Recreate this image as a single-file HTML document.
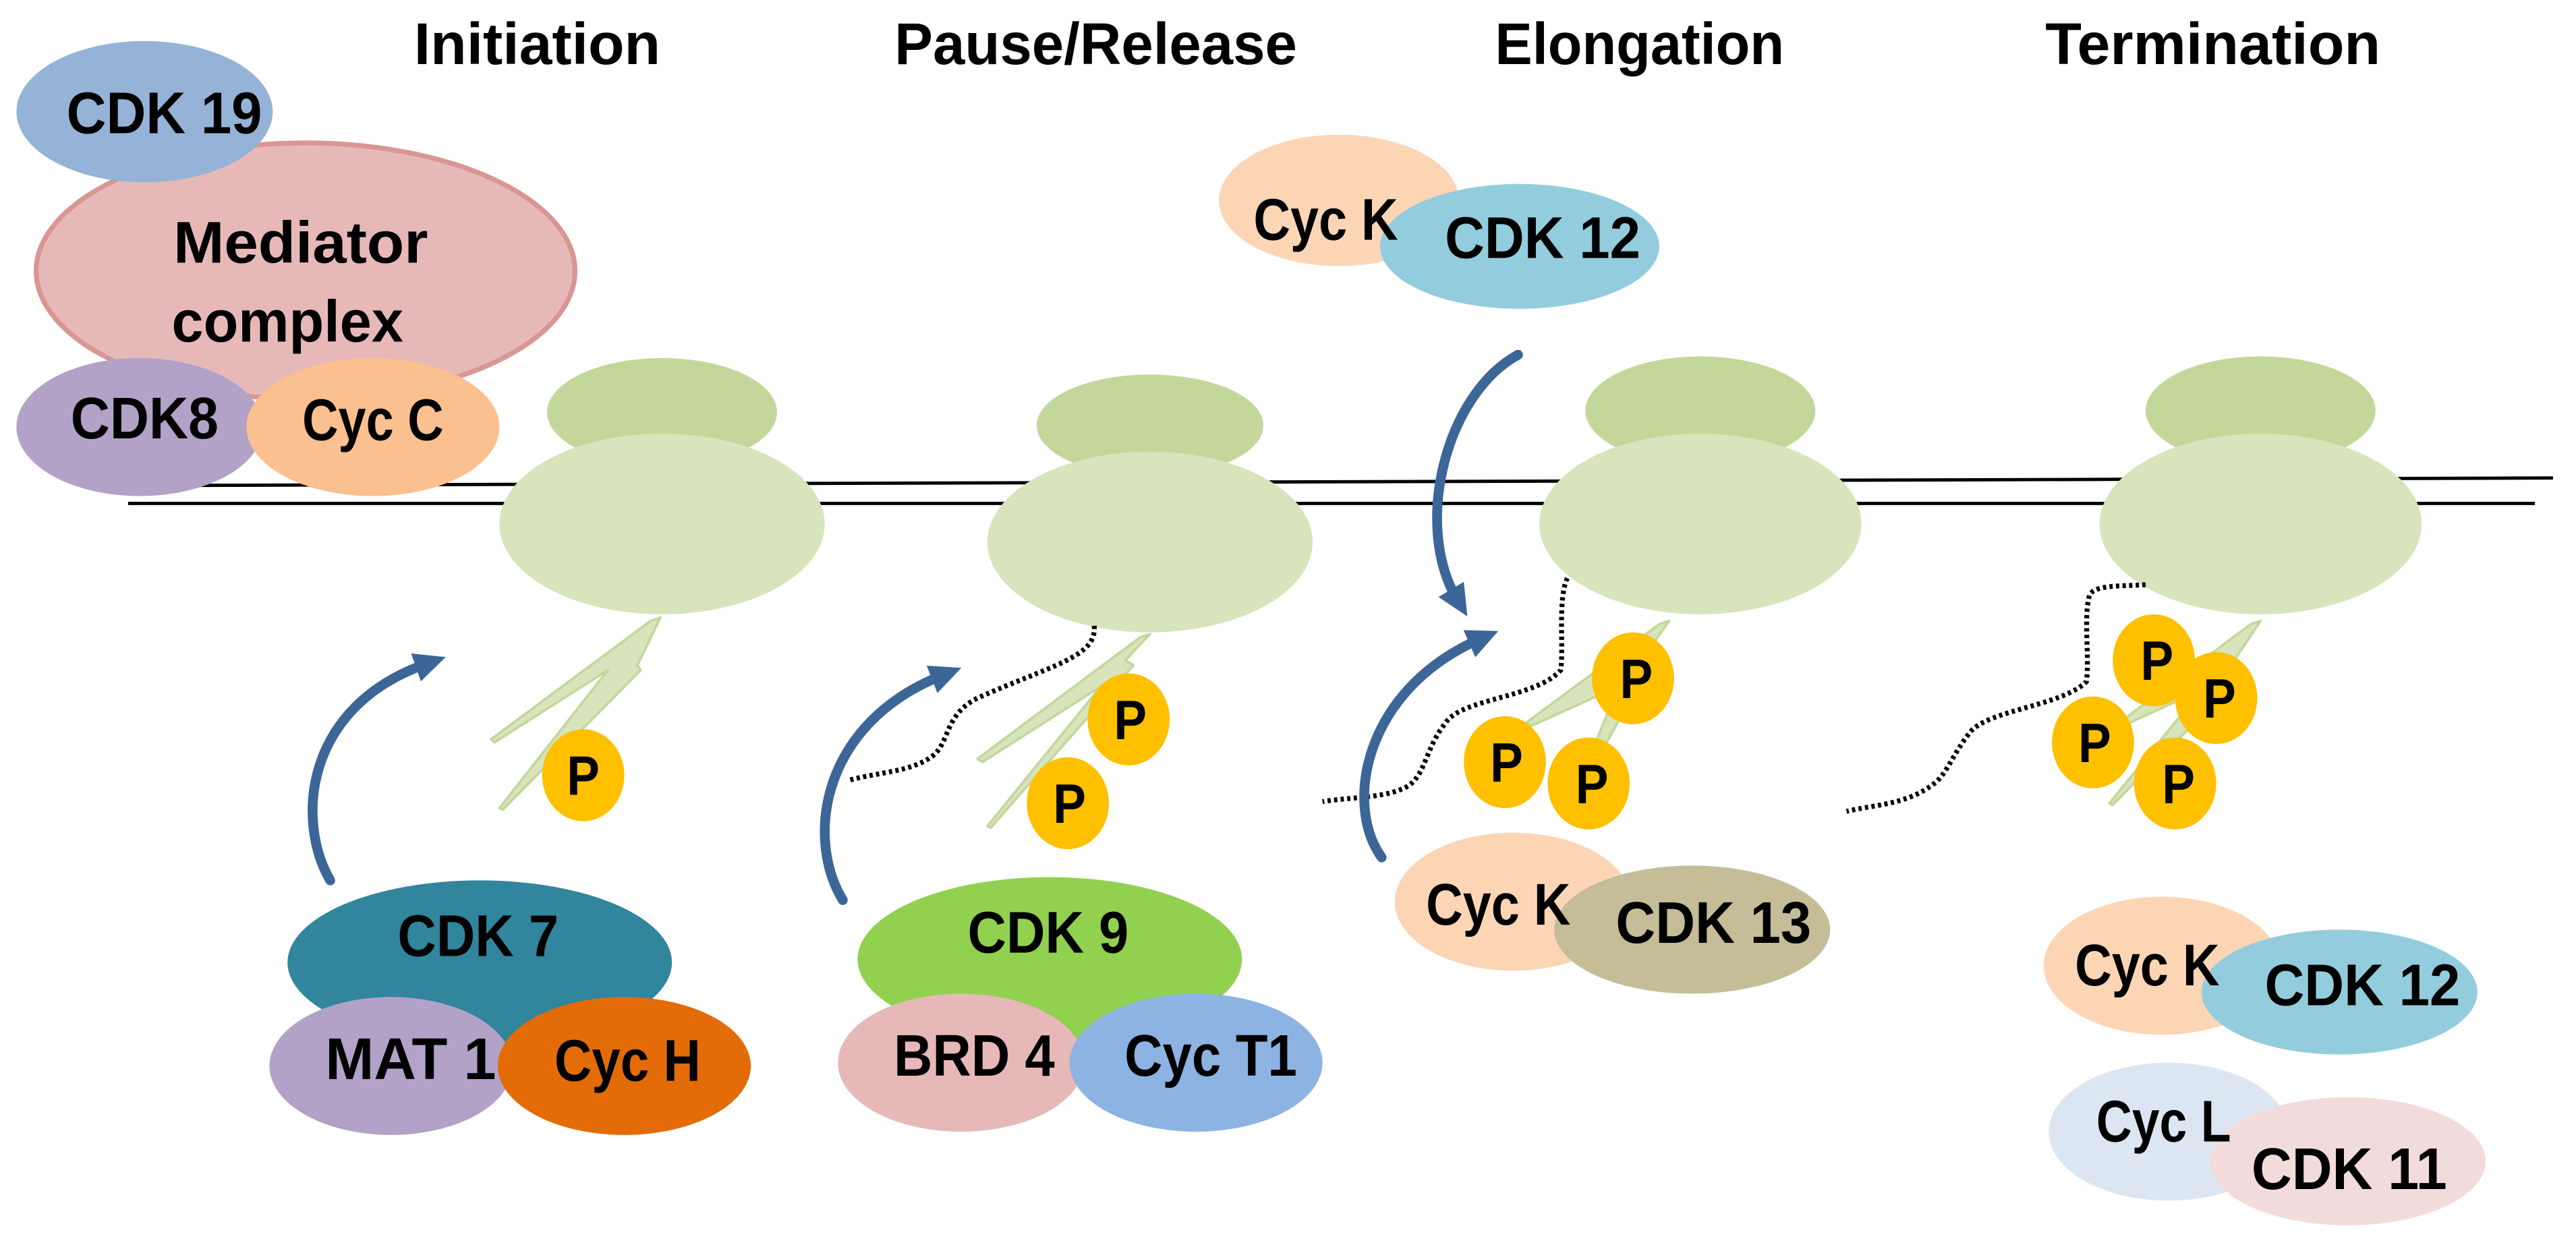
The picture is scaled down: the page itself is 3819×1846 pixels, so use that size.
<!DOCTYPE html>
<html><head><meta charset="utf-8"><style>
html,body{margin:0;padding:0;background:#fff;}
svg{display:block;}
text{font-family:"Liberation Sans",sans-serif;font-weight:bold;fill:#000;text-anchor:middle;}
</style></head><body>
<svg width="3819" height="1846" viewBox="0 0 1568 758" preserveAspectRatio="none" xmlns="http://www.w3.org/2000/svg">
<defs>
<marker id="ah" markerWidth="3.2" markerHeight="3" refX="1.2" refY="1.5" orient="auto" markerUnits="strokeWidth">
<path d="M0,0 L3.2,1.5 L0,3 Z" fill="#3d6698"/>
</marker>
</defs>
<rect width="1568" height="758" fill="#fff"/>
<g font-size="36">
<text x="327" y="39" textLength="150" lengthAdjust="spacingAndGlyphs">Initiation</text>
<text x="667" y="39" textLength="245" lengthAdjust="spacingAndGlyphs">Pause/Release</text>
<text x="998" y="39" textLength="176" lengthAdjust="spacingAndGlyphs">Elongation</text>
<text x="1347" y="39" textLength="204" lengthAdjust="spacingAndGlyphs">Termination</text>
</g>
<line x1="122" y1="295.5" x2="1554" y2="291" stroke="#000" stroke-width="2"/>
<line x1="78" y1="306.5" x2="1543" y2="306.5" stroke="#000" stroke-width="2"/>
<ellipse cx="186" cy="165" rx="164" ry="78" fill="#e6b9b8" stroke="#d99694" stroke-width="3"/>
<ellipse cx="88" cy="68" rx="78" ry="43" fill="#95b3d7"/>
<ellipse cx="85" cy="260" rx="75" ry="42" fill="#b3a2c7"/>
<ellipse cx="227" cy="260" rx="77" ry="42" fill="#fac090"/>
<g font-size="36">
<text x="100" y="81" textLength="119" lengthAdjust="spacingAndGlyphs">CDK 19</text>
<text x="183" y="160" textLength="155" lengthAdjust="spacingAndGlyphs">Mediator</text>
<text x="175" y="208" textLength="141" lengthAdjust="spacingAndGlyphs">complex</text>
<text x="88" y="267" textLength="90" lengthAdjust="spacingAndGlyphs">CDK8</text>
<text x="227" y="268" textLength="86" lengthAdjust="spacingAndGlyphs">Cyc C</text>
</g>
<g>
<ellipse cx="403" cy="251" rx="70" ry="33" fill="#c4d79b"/>
<ellipse cx="403" cy="319" rx="99" ry="55" fill="#d7e4bc"/>
<ellipse cx="700" cy="259" rx="69" ry="31" fill="#c4d79b"/>
<ellipse cx="700" cy="330" rx="99" ry="55" fill="#d7e4bc"/>
<ellipse cx="1035" cy="250" rx="70" ry="33" fill="#c4d79b"/>
<ellipse cx="1035" cy="319" rx="98" ry="55" fill="#d7e4bc"/>
<ellipse cx="1376" cy="250" rx="70" ry="33" fill="#c4d79b"/>
<ellipse cx="1376" cy="319" rx="98" ry="55" fill="#d7e4bc"/>
</g>
<g fill="#d7e4bc" stroke="#c4d79b" stroke-width="1.5" stroke-linejoin="round">
<polygon points="402,376 396,378 299,450 301,452 370,408 304,492 306,493 390,408 388,405"/>
<polygon points="700,386 694,388 595,462 598,464 670,418 601,503 603,504 690,405 685,402"/>
<polygon points="1016,378 1010,380 929,440 932,442 985,418 960,480 962,481 1000,412 995,408"/>
<polygon points="1376,378 1370,380 1290,440 1292,442 1340,420 1284,489 1286,490 1358,418 1352,414"/>
</g>
<g stroke="#000" stroke-width="3" fill="none" stroke-dasharray="2,2">
<path d="M666,381 C668,400 640,405 595,425 C575,435 578,452 568,460 C555,470 535,470 517,475"/>
<path d="M954,352 C948,365 952,395 950,408 C935,425 890,425 880,440 C868,455 868,470 858,478 C845,486 825,485 805,488"/>
<path d="M1306,356 C1290,357 1276,356 1272,362 C1268,375 1272,400 1270,415 C1255,430 1210,432 1199,446 C1188,460 1185,472 1176,478 C1160,490 1140,490 1124,494"/>
</g>
<g fill="#ffc000">
<ellipse cx="355" cy="472" rx="25" ry="28"/>
<ellipse cx="687" cy="438" rx="25" ry="28"/>
<ellipse cx="650" cy="489" rx="25" ry="28"/>
<ellipse cx="994" cy="413" rx="25" ry="28"/>
<ellipse cx="916" cy="464" rx="25" ry="28"/>
<ellipse cx="967" cy="477" rx="25" ry="28"/>
<ellipse cx="1311" cy="402" rx="25" ry="28"/>
<ellipse cx="1349" cy="425" rx="25" ry="28"/>
<ellipse cx="1274" cy="452" rx="25" ry="28"/>
<ellipse cx="1324" cy="477" rx="25" ry="28"/>
</g>
<g font-size="34">
<text x="355" y="484" textLength="20" lengthAdjust="spacingAndGlyphs">P</text>
<text x="688" y="450" textLength="20" lengthAdjust="spacingAndGlyphs">P</text>
<text x="651" y="501" textLength="20" lengthAdjust="spacingAndGlyphs">P</text>
<text x="996" y="425" textLength="20" lengthAdjust="spacingAndGlyphs">P</text>
<text x="917" y="476" textLength="20" lengthAdjust="spacingAndGlyphs">P</text>
<text x="969" y="489" textLength="20" lengthAdjust="spacingAndGlyphs">P</text>
<text x="1313" y="414" textLength="20" lengthAdjust="spacingAndGlyphs">P</text>
<text x="1351" y="437" textLength="20" lengthAdjust="spacingAndGlyphs">P</text>
<text x="1275" y="464" textLength="20" lengthAdjust="spacingAndGlyphs">P</text>
<text x="1326" y="489" textLength="20" lengthAdjust="spacingAndGlyphs">P</text>
</g>
<g stroke="#3d6698" stroke-width="6" fill="none" stroke-linecap="round" marker-end="url(#ah)">
<path d="M201,536 C180,500 185,430 260,404"/>
<path d="M513,548 C490,510 500,440 574,411"/>
<path d="M841,522 C818,490 830,420 901,389"/>
<path d="M924,216 C880,240 860,320 887,365"/>
</g>
<ellipse cx="815" cy="122" rx="73" ry="40" fill="#fcd5b5"/>
<ellipse cx="925" cy="150" rx="85" ry="38" fill="#93cddd"/>
<ellipse cx="292" cy="586" rx="117" ry="50" fill="#31859c"/>
<ellipse cx="238" cy="649" rx="74" ry="42" fill="#b3a2c7"/>
<ellipse cx="380" cy="649" rx="77" ry="42" fill="#e36c09"/>
<ellipse cx="639" cy="584" rx="117" ry="50" fill="#92d050"/>
<ellipse cx="585" cy="647" rx="75" ry="42" fill="#e6b9b8"/>
<ellipse cx="728" cy="647" rx="77" ry="42" fill="#8db3e2"/>
<ellipse cx="921" cy="549" rx="72" ry="42" fill="#fcd5b5"/>
<ellipse cx="1030" cy="566" rx="84" ry="39" fill="#c4bd97"/>
<ellipse cx="1316" cy="588" rx="72" ry="42" fill="#fcd5b5"/>
<ellipse cx="1424" cy="604" rx="84" ry="38" fill="#93cddd"/>
<ellipse cx="1320" cy="689" rx="73" ry="42" fill="#dce6f2"/>
<ellipse cx="1429" cy="707" rx="84" ry="39" fill="#f2dcdb"/>
<g font-size="36">
<text x="807" y="146" textLength="88" lengthAdjust="spacingAndGlyphs">Cyc K</text>
<text x="939" y="157" textLength="119" lengthAdjust="spacingAndGlyphs">CDK 12</text>
<text x="291" y="582" textLength="98" lengthAdjust="spacingAndGlyphs">CDK 7</text>
<text x="250" y="657" textLength="104" lengthAdjust="spacingAndGlyphs">MAT 1</text>
<text x="382" y="658" textLength="89" lengthAdjust="spacingAndGlyphs">Cyc H</text>
<text x="638" y="580" textLength="98" lengthAdjust="spacingAndGlyphs">CDK 9</text>
<text x="593" y="655" textLength="98" lengthAdjust="spacingAndGlyphs">BRD 4</text>
<text x="737" y="655" textLength="105" lengthAdjust="spacingAndGlyphs">Cyc T1</text>
<text x="912" y="563" textLength="88" lengthAdjust="spacingAndGlyphs">Cyc K</text>
<text x="1043" y="574" textLength="119" lengthAdjust="spacingAndGlyphs">CDK 13</text>
<text x="1307" y="600" textLength="88" lengthAdjust="spacingAndGlyphs">Cyc K</text>
<text x="1438" y="612" textLength="119" lengthAdjust="spacingAndGlyphs">CDK 12</text>
<text x="1317" y="695" textLength="82" lengthAdjust="spacingAndGlyphs">Cyc L</text>
<text x="1430" y="724" textLength="119" lengthAdjust="spacingAndGlyphs">CDK 11</text>
</g>
</svg>
</body></html>
